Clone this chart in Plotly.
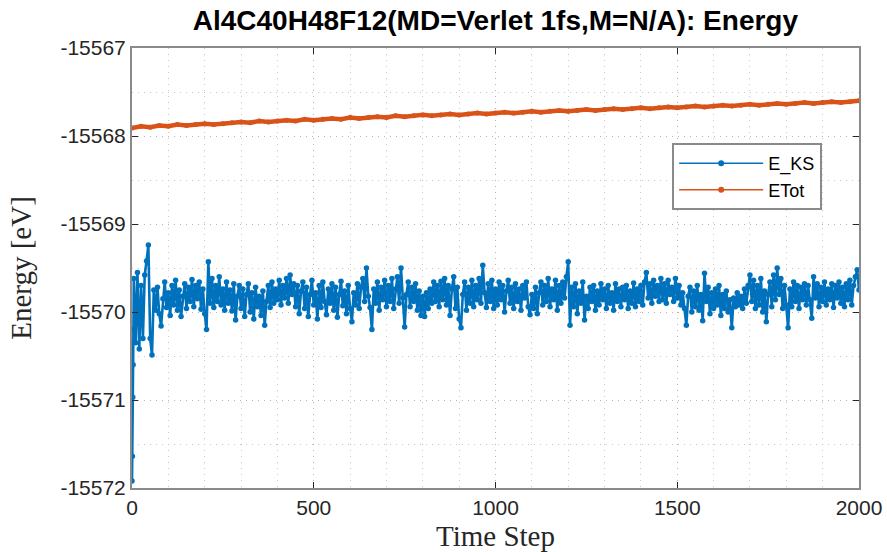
import plotly.graph_objects as go

# ---------------- data ----------------
eks_steps = [0, 1, 2, 3, 4] + list(range(5, 2001, 5))
eks_values = [
    -15571.92, -15571.64, -15570.97, -15570.60, -15570.20,
    -15569.62, -15570.35, -15569.55, -15570.42, -15569.70, -15570.30, -15569.58, -15569.42, -15569.24, -15570.30,
    -15570.49, -15569.75, -15569.98, -15569.72, -15570.02, -15570.16, -15569.85, -15569.66, -15569.95, -15569.78,
    -15570.04, -15569.70, -15569.92, -15569.64, -15569.98, -15569.75, -15570.05, -15569.82, -15569.68, -15569.96,
    -15569.72, -15569.88, -15569.63, -15569.94, -15569.70, -15569.85, -15569.66, -15569.97, -15569.74, -15570.02,
    -15570.20, -15569.43, -15569.90, -15569.62, -15569.95, -15569.70, -15569.88, -15569.60, -15569.92, -15569.74,
    -15569.98, -15569.66, -15569.90, -15569.75, -15569.99, -15569.68, -15570.09, -15569.82, -15569.70, -15569.96,
    -15569.74, -15570.05, -15569.80, -15569.68, -15570.00, -15569.78, -15570.08, -15569.72, -15569.94, -15569.82,
    -15570.04, -15569.76, -15570.15, -15569.88, -15569.70, -15569.95, -15569.66, -15569.90, -15569.74, -15569.86,
    -15569.64, -15569.92, -15569.70, -15569.84, -15569.62, -15569.90, -15569.58, -15569.80, -15569.68, -15569.94,
    -15569.70, -15570.02, -15569.76, -15569.66, -15569.96, -15569.72, -15570.05, -15569.80, -15569.64, -15569.92,
    -15569.78, -15570.08, -15569.70, -15569.95, -15569.66, -15569.88, -15570.03, -15569.74, -15569.90, -15569.68,
    -15569.98, -15569.72, -15570.06, -15569.80, -15569.65, -15569.93, -15569.76, -15570.02, -15569.70, -15569.96,
    -15570.11, -15569.78, -15569.92, -15569.68, -15569.96, -15569.72, -15569.62, -15569.88, -15569.50, -15569.82,
    -15569.95, -15570.20, -15569.74, -15569.90, -15569.66, -15569.98, -15569.72, -15569.86, -15569.64, -15569.94,
    -15569.70, -15569.88, -15569.62, -15569.96, -15569.74, -15569.60, -15569.90, -15569.50, -15569.84, -15570.17,
    -15569.80, -15569.66, -15569.94, -15569.72, -15569.88, -15569.68, -15569.98, -15569.76, -15570.04, -15569.82,
    -15570.05, -15569.78, -15569.96, -15569.74, -15569.90, -15569.66, -15569.88, -15569.70, -15569.94, -15569.65,
    -15569.86, -15569.62, -15569.92, -15569.70, -15570.04, -15569.74, -15569.60, -15569.96, -15569.72, -15570.08,
    -15570.18, -15569.80, -15569.66, -15569.98, -15569.72, -15569.90, -15569.64, -15569.94, -15569.70, -15569.86,
    -15569.62, -15569.90, -15569.47, -15569.78, -15569.95, -15569.68, -15569.88, -15569.64, -15569.96, -15569.74,
    -15569.92, -15569.66, -15569.86, -15569.70, -15570.00, -15569.76, -15569.64, -15569.90, -15569.72, -15569.96,
    -15569.68, -15569.88, -15569.74, -15569.98, -15569.70, -15569.84, -15569.66, -15569.94, -15570.03, -15569.80,
    -15569.96, -15569.72, -15570.02, -15569.78, -15569.66, -15569.92, -15569.70, -15569.88, -15569.62, -15569.94,
    -15569.74, -15569.86, -15569.64, -15569.98, -15569.70, -15569.90, -15569.66, -15569.84, -15569.60, -15569.43,
    -15570.15, -15569.72, -15569.94, -15569.68, -15570.02, -15569.76, -15569.90, -15569.66, -15570.09, -15569.82,
    -15569.96, -15569.72, -15569.88, -15569.70, -15569.98, -15569.76, -15569.92, -15569.68, -15569.86, -15569.74,
    -15569.96, -15569.70, -15569.90, -15569.78, -15569.98, -15569.68, -15569.88, -15569.74, -15569.94, -15569.72,
    -15569.86, -15569.70, -15569.96, -15569.76, -15569.90, -15569.67, -15569.94, -15569.74, -15569.88, -15569.70,
    -15569.92, -15569.66, -15569.55, -15569.84, -15569.68, -15569.90, -15569.64, -15569.82, -15569.70, -15569.88,
    -15569.62, -15569.86, -15569.68, -15569.90, -15569.64, -15569.80, -15569.72, -15569.88, -15569.62, -15569.84,
    -15569.70, -15569.92, -15569.78, -15569.96, -15570.15, -15569.82, -15569.72, -15570.00, -15569.76, -15569.94,
    -15569.70, -15569.98, -15569.80, -15570.10, -15569.56, -15569.88, -15569.72, -15570.02, -15569.78, -15569.96,
    -15569.74, -15569.92, -15569.70, -15570.04, -15569.80, -15569.96, -15569.76, -15570.00, -15569.86, -15570.18,
    -15569.84, -15569.94, -15569.78, -15569.92, -15569.82, -15569.96, -15569.74, -15569.90, -15569.70, -15569.58,
    -15569.88, -15569.64, -15569.96, -15569.70, -15569.92, -15569.62, -15570.00, -15569.76, -15570.11, -15569.80,
    -15569.66, -15569.94, -15569.58, -15569.86, -15569.50, -15569.80, -15569.62, -15569.96, -15569.70, -15569.92,
    -15570.18, -15569.74, -15569.94, -15569.66, -15569.88, -15569.70, -15569.96, -15569.72, -15569.86, -15569.68,
    -15569.92, -15569.70, -15569.86, -15570.07, -15569.60, -15569.84, -15569.68, -15569.94, -15569.72, -15569.88,
    -15569.66, -15569.92, -15569.74, -15569.86, -15569.68, -15569.95, -15569.70, -15569.84, -15569.66, -15569.90,
    -15569.72, -15569.94, -15569.68, -15569.86, -15569.64, -15569.92, -15569.70, -15569.60, -15569.52, -15569.75,
]

etot_steps = list(range(0, 2001, 25))
etot_values = [
    -15567.91, -15567.89, -15567.90, -15567.88, -15567.89, -15567.87, -15567.88, -15567.87, -15567.86,
    -15567.87, -15567.86, -15567.85, -15567.84, -15567.85, -15567.83, -15567.84, -15567.83, -15567.82,
    -15567.83, -15567.81, -15567.82, -15567.81, -15567.80, -15567.81, -15567.79, -15567.80, -15567.79,
    -15567.78, -15567.79, -15567.77, -15567.78, -15567.77, -15567.76, -15567.77, -15567.76, -15567.75,
    -15567.76, -15567.75, -15567.74, -15567.75, -15567.74, -15567.73, -15567.74, -15567.73, -15567.72,
    -15567.73, -15567.72, -15567.71, -15567.72, -15567.71, -15567.70, -15567.71, -15567.70, -15567.69,
    -15567.70, -15567.69, -15567.68, -15567.69, -15567.68, -15567.67, -15567.68, -15567.67, -15567.66,
    -15567.67, -15567.66, -15567.65, -15567.66, -15567.65, -15567.64, -15567.65, -15567.64, -15567.63,
    -15567.64, -15567.63, -15567.62, -15567.63, -15567.62, -15567.61, -15567.62, -15567.61, -15567.60,
]

x_ticks = [0, 500, 1000, 1500, 2000]
y_ticks = [-15572, -15571, -15570, -15569, -15568, -15567]

series_names = ["E_KS", "ETot"]
BLUE = "#0072BD"
ORANGE = "#D95319"

title_text = "Al4C40H48F12(MD=Verlet 1fs,M=N/A): Energy"

# ---------------- figure ----------------
fig = go.Figure()

fig.add_trace(go.Scatter(
    x=eks_steps, y=eks_values, mode="lines+markers", showlegend=False,
    line=dict(color=BLUE, width=2.6), marker=dict(color=BLUE, size=5.5),
))
fig.add_trace(go.Scatter(
    x=etot_steps, y=etot_values, mode="lines+markers", showlegend=False,
    line=dict(color=ORANGE, width=4.5), marker=dict(color=ORANGE, size=5),
))
# legend entries (thin line with a dot, as in the reference legend)
for name, col in zip(series_names, [BLUE, ORANGE]):
    fig.add_trace(go.Scatter(
        x=[None], y=[None], mode="lines+markers", name=name, legendgroup=name,
        line=dict(color=col, width=1.5), marker=dict(color=col, size=6),
    ))

grid_col = "#b4b4b4"
axis_common = dict(
    showline=True, linecolor="#8a8a8a", linewidth=2, mirror="allticks",
    ticks="inside", ticklen=6, tickwidth=1, tickcolor="#262626",
    showgrid=True, gridcolor=grid_col, griddash="1px,5px", gridwidth=1,
    zeroline=False, automargin=False,
    tickfont=dict(family="Liberation Sans, Arial, sans-serif", size=21, color="#262626"),
)

fig.update_xaxes(
    range=[0, 2000], tickvals=x_ticks, ticktext=[str(v) for v in x_ticks],
    minor=dict(dtick=100, showgrid=True, gridcolor="#c8c8c8", griddash="1px,5px", ticks=""),
    title=dict(text="Time Step", standoff=11,
               font=dict(family="Liberation Serif, Times New Roman, serif", size=29, color="#262626")),
    **axis_common,
)
fig.update_yaxes(
    range=[-15572, -15567], tickvals=y_ticks, ticktext=[str(v) for v in y_ticks],
    minor=dict(dtick=0.5, showgrid=True, gridcolor="#c8c8c8", griddash="1px,5px", ticks=""),
    title=dict(text="Energy [eV]", standoff=20,
               font=dict(family="Liberation Serif, Times New Roman, serif", size=29, color="#262626")),
    **axis_common,
)

fig.update_layout(
    width=887, height=552,
    margin=dict(l=132, r=28, t=48, b=64),
    paper_bgcolor="white", plot_bgcolor="white",
    title=dict(text="<b>" + title_text + "</b>", x=0.5585, xanchor="center", y=0.963, yanchor="middle",
               font=dict(family="Liberation Sans, Arial, sans-serif", size=28, color="black")),
    legend=dict(
        x=0.743, y=0.784, xanchor="left", yanchor="top",
        bgcolor="white", bordercolor="#8a8a8a", borderwidth=2,
        font=dict(family="Liberation Sans, Arial, sans-serif", size=18, color="black"),
        tracegroupgap=0, itemwidth=84,
    ),
)

fig.write_html("out.html")
